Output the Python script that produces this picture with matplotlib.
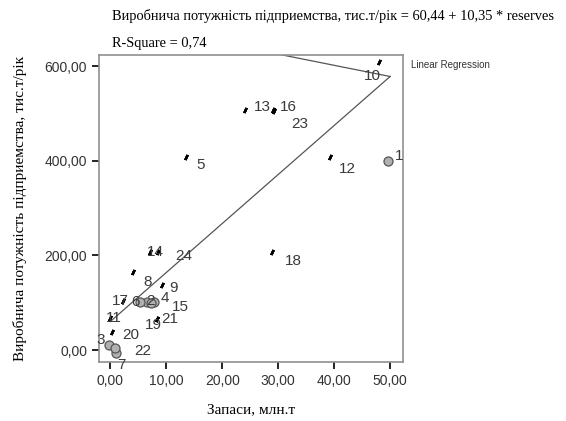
import matplotlib
matplotlib.use("Agg")
import matplotlib.pyplot as plt
import numpy as np

# reserves (mln t) vs capacity (thousand t / year), labelled by enterprise number
ids = [1, 2, 3, 4, 5, 6, 7, 8, 9, 10, 11, 12,
       13, 14, 15, 16, 17, 18, 19, 20, 21, 22, 23, 24]
reserves = [49.6, 6.6, -0.3, 7.8, 13.6, 5.3, 1.0, 4.1, 9.3, 48.0, 0.0, 39.3,
            24.1, 7.1, 7.2, 29.1, 2.3, 28.9, 8.4, 0.4, 8.4, 0.8, 29.3, 8.6]
capacity = [399, 101, 12, 102, 408, 101, -5, 165, 137, 608, 68, 408,
            507, 207, 99, 507, 104, 207, 66, 38, 66, 5, 505, 207]
circle_ids = [1, 2, 3, 4, 6, 7, 15, 22]

# label offsets in points (dx, dy)
label_off = {1: (5, 4), 2: (-1, 1), 3: (-9, 3), 4: (5, 3), 5: (7, -6), 6: (-6, 0),
             7: (1, -9), 8: (7, -7), 9: (5, -2), 10: (-11, -10), 11: (-3, 0),
             12: (6, -9), 13: (6, 2), 14: (-2, 0), 15: (15, -3), 16: (5, 2),
             17: (-8, 0), 18: (9, -6), 19: (-9, -4), 20: (7, -2), 21: (3, 0),
             22: (14, -2), 23: (12, -9), 24: (12, -3)}

intercept, slope = 60.44, 10.35
fit_x = [0.0, 50.0]
back_x = [50.0, 0.0]
back_y = [intercept + slope * 50.0, 696.0]

fig = plt.figure(figsize=(5.66, 4.21), dpi=100)
ax = fig.add_axes([0.175, 0.140, 0.537, 0.729])

serif = ["Liberation Serif", "DejaVu Serif"]
sans = ["Liberation Sans", "DejaVu Sans"]

fx = np.array(fit_x)
ax.plot(fx, intercept + slope * fx, color="#555555", lw=0.9, zorder=2)
ax.plot(back_x, back_y, color="#555555", lw=0.9, zorder=2)

for i, x, y in zip(ids, reserves, capacity):
    if i in circle_ids:
        ax.plot(x, y, "o", ms=6.5, mfc="#b0b0b0", mec="#555555", mew=0.9, zorder=3)
    else:
        ax.plot(x, y, marker=(2, 2, -25), ms=4, mec="black", mew=1.8, zorder=3)
    dx, dy = label_off[i]
    ax.annotate(str(i), (x, y), xytext=(dx, dy), textcoords="offset points",
                fontsize=11, family=sans, color="#3a3a3a", ha="left", va="center", zorder=4)

ax.set_xlim(-2.0, 52.3)
ax.set_ylim(-25, 623)
ax.set_xticks([0, 10, 20, 30, 40, 50])
ax.set_yticks([0, 200, 400, 600])
ax.set_xticklabels([f"{v:.2f}".replace(".", ",") for v in ax.get_xticks()],
                   family=sans, fontsize=10, color="#333333")
ax.set_yticklabels([f"{v:.2f}".replace(".", ",") for v in ax.get_yticks()],
                   family=sans, fontsize=10, color="#333333")
ax.tick_params(direction="out", length=5, width=1.2, color="black")
for s in ax.spines.values():
    s.set_color("#909090")
    s.set_linewidth(1.2)

ax.set_xlabel("Запаси, млн.т", family=serif, fontsize=11, labelpad=11)
ax.set_ylabel("Виробнича потужність підприемства, тис.т/рік", family=serif, fontsize=11, labelpad=13)

fig.text(112 / 566, 1 - 16 / 421,
         "Виробнича потужність підприемства, тис.т/рік = 60,44 + 10,35 * reserves",
         family=serif, fontsize=10.4, va="center", ha="left")
fig.text(112 / 566, 1 - 43 / 421, "R-Square = 0,74", family=serif, fontsize=10.4,
         va="center", ha="left")
fig.text(411 / 566, 1 - 65 / 421, "Linear Regression", family=sans, fontsize=7,
         va="center", ha="left", color="#333333")

fig.savefig("out.png", dpi=100, facecolor="white")
